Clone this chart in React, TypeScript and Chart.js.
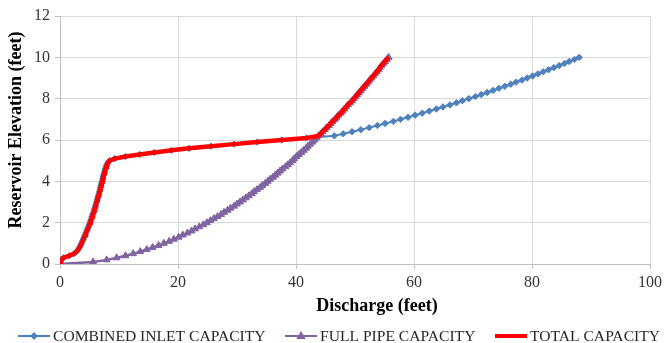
import React, { useEffect, useRef } from 'react';
import { Chart, registerables } from 'chart.js';

Chart.register(...registerables);

// ---- data ----
const elevations = [
  0.0, 0.1, 0.2, 0.3, 0.4, 0.5, 0.6, 0.7, 0.8, 0.9,
  1.0, 1.1, 1.2, 1.3, 1.4, 1.5, 1.6, 1.7, 1.8, 1.9,
  2.0, 2.1, 2.2, 2.3, 2.4, 2.5, 2.6, 2.7, 2.8, 2.9,
  3.0, 3.1, 3.2, 3.3, 3.4, 3.5, 3.6, 3.7, 3.8, 3.9,
  4.0, 4.1, 4.2, 4.3, 4.4, 4.5, 4.6, 4.7, 4.8, 4.9,
  5.0, 5.1, 5.2, 5.3, 5.4, 5.5, 5.6, 5.7, 5.8, 5.9,
  6.0, 6.1, 6.2, 6.3, 6.4, 6.5, 6.6, 6.7, 6.8, 6.9,
  7.0, 7.1, 7.2, 7.3, 7.4, 7.5, 7.6, 7.7, 7.8, 7.9,
  8.0, 8.1, 8.2, 8.3, 8.4, 8.5, 8.6, 8.7, 8.8, 8.9,
  9.0, 9.1, 9.2, 9.3, 9.4, 9.5, 9.6, 9.7, 9.8, 9.9,
  10.0,
];

const inletDischarge = [
  0, 0.1, 0.2, 0.6, 1.6, 2.4, 2.8, 3.1, 3.3, 3.5,
  3.65, 3.8, 3.95, 4.1, 4.25, 4.4, 4.55, 4.7, 4.85, 4.95,
  5.1, 5.2, 5.35, 5.45, 5.55, 5.7, 5.8, 5.9, 6.0, 6.1,
  6.2, 6.3, 6.4, 6.5, 6.6, 6.7, 6.8, 6.85, 6.95, 7.05,
  7.15, 7.25, 7.3, 7.4, 7.5, 7.6, 7.7, 7.8, 7.95, 8.1,
  8.4, 9.3, 11.1, 13.5, 16.0, 18.9, 21.9, 25.6, 29.5, 33.4,
  37.6, 41.8, 46.5, 48.0, 49.5, 51.0, 52.4, 53.8, 55.1, 56.5,
  57.7, 59.0, 60.2, 61.4, 62.6, 63.8, 64.9, 66.1, 67.2, 68.2,
  69.3, 70.4, 71.4, 72.4, 73.4, 74.4, 75.4, 76.4, 77.3, 78.3,
  79.2, 80.1, 81.0, 81.9, 82.8, 83.7, 84.6, 85.5, 86.3, 87.2,
  88.0,
];

const pipeDischarge = [
  0, 5.6, 7.9, 9.6, 11.1, 12.4, 13.6, 14.7, 15.7, 16.7,
  17.6, 18.5, 19.3, 20.1, 20.8, 21.6, 22.3, 22.9, 23.6, 24.3,
  24.9, 25.5, 26.1, 26.7, 27.3, 27.8, 28.4, 28.9, 29.5, 30.0,
  30.5, 31.0, 31.5, 32.0, 32.5, 32.9, 33.4, 33.9, 34.3, 34.8,
  35.2, 35.6, 36.1, 36.5, 36.9, 37.3, 37.7, 38.2, 38.6, 39.0,
  39.4, 39.7, 40.1, 40.5, 40.9, 41.3, 41.7, 42.0, 42.4, 42.8,
  43.1, 43.5, 43.8, 44.2, 44.5, 44.9, 45.2, 45.6, 45.9, 46.2,
  46.6, 46.9, 47.2, 47.6, 47.9, 48.2, 48.5, 48.8, 49.2, 49.5,
  49.8, 50.1, 50.4, 50.7, 51.0, 51.3, 51.6, 51.9, 52.2, 52.5,
  52.8, 53.1, 53.4, 53.7, 54.0, 54.2, 54.5, 54.8, 55.1, 55.4,
  55.7,
];

const totalDischarge = [
  0, 0.1, 0.2, 0.6, 1.6, 2.4, 2.8, 3.1, 3.3, 3.5,
  3.65, 3.8, 3.95, 4.1, 4.25, 4.4, 4.55, 4.7, 4.85, 4.95,
  5.1, 5.2, 5.35, 5.45, 5.55, 5.7, 5.8, 5.9, 6.0, 6.1,
  6.2, 6.3, 6.4, 6.5, 6.6, 6.7, 6.8, 6.85, 6.95, 7.05,
  7.15, 7.25, 7.3, 7.4, 7.5, 7.6, 7.7, 7.8, 7.95, 8.1,
  8.4, 9.3, 11.1, 13.5, 16.0, 18.9, 21.9, 25.6, 29.5, 33.4,
  37.6, 41.8, 43.8, 44.2, 44.5, 44.9, 45.2, 45.6, 45.9, 46.2,
  46.6, 46.9, 47.2, 47.6, 47.9, 48.2, 48.5, 48.8, 49.2, 49.5,
  49.8, 50.1, 50.4, 50.7, 51.0, 51.3, 51.6, 51.9, 52.2, 52.5,
  52.8, 53.1, 53.4, 53.7, 54.0, 54.2, 54.5, 54.8, 55.1, 55.4,
  55.7,
];

const seriesLabels = ['COMBINED INLET CAPACITY', 'FULL PIPE CAPACITY', 'TOTAL CAPACITY'];
const xAxisTitle = 'Discharge (feet)';
const yAxisTitle = 'Reservoir Elevation (feet)';
const xRange = [0, 100];
const xStep = 20;
const yRange = [0, 12];
const yStep = 2;

// ---- styles ----
const SERIF = '"Liberation Serif", "Times New Roman", serif';
const BLUE = '#4F81BD';
const PURPLE = '#8064A2';
const RED = '#FF0000';
const GRID = '#d9d9d9';
const AXIS = '#bfbfbf';

function drawDiamond(ctx: CanvasRenderingContext2D, cx: number, cy: number, r: number) {
  ctx.beginPath();
  ctx.moveTo(cx, cy - r);
  ctx.lineTo(cx + r, cy);
  ctx.lineTo(cx, cy + r);
  ctx.lineTo(cx - r, cy);
  ctx.closePath();
  ctx.fill();
}

function drawTriangle(ctx: CanvasRenderingContext2D, cx: number, cy: number, r: number) {
  ctx.beginPath();
  ctx.moveTo(cx, cy - r);
  ctx.lineTo(cx + r * 0.95, cy + r * 0.6);
  ctx.lineTo(cx - r * 0.95, cy + r * 0.6);
  ctx.closePath();
  ctx.fill();
}

const textPlugin = {
  id: 'excelTexts',
  afterDraw(chart: any) {
    const ctx: CanvasRenderingContext2D = chart.ctx;
    ctx.save();
    // axis titles
    ctx.fillStyle = '#000';
    ctx.font = `bold 18px ${SERIF}`;
    ctx.textAlign = 'center';
    ctx.textBaseline = 'middle';
    ctx.fillText(xAxisTitle, 377, 306);
    ctx.save();
    ctx.translate(16, 130);
    ctx.rotate(-Math.PI / 2);
    ctx.fillText(yAxisTitle, 0, 0);
    ctx.restore();

    // legend
    const legendX = [18, 285, 495];
    const ly = 336;
    chart.data.datasets.forEach((ds: any, i: number) => {
      const x0 = legendX[i];
      ctx.strokeStyle = ds.borderColor;
      ctx.lineWidth = i === 2 ? 4 : 2;
      ctx.beginPath();
      ctx.moveTo(x0, ly);
      ctx.lineTo(x0 + 32, ly);
      ctx.stroke();
      ctx.fillStyle = ds.borderColor;
      if (ds.pointStyle === 'rectRot') drawDiamond(ctx, x0 + 16, ly, 4);
      if (ds.pointStyle === 'triangle') drawTriangle(ctx, x0 + 16, ly, 5);
      ctx.fillStyle = '#262626';
      ctx.font = `15.6px ${SERIF}`;
      ctx.textAlign = 'left';
      ctx.textBaseline = 'middle';
      ctx.fillText(ds.label, x0 + 35, ly + 1);
    });
    ctx.restore();
  },
};

export default function App() {
  const canvasRef = useRef<HTMLCanvasElement | null>(null);

  useEffect(() => {
    if (!canvasRef.current) return;
    const toPoints = (xs: number[]) => elevations.map((e, i) => ({ x: xs[i], y: e }));
    const chart = new Chart(canvasRef.current, {
      type: 'scatter',
      data: {
        datasets: [
          {
            label: seriesLabels[0],
            data: toPoints(inletDischarge),
            showLine: true,
            borderColor: BLUE,
            backgroundColor: BLUE,
            borderWidth: 2,
            pointStyle: 'rectRot',
            pointRadius: 3.2,
            pointBorderWidth: 1,
            tension: 0,
            order: 2,
          },
          {
            label: seriesLabels[1],
            data: toPoints(pipeDischarge),
            showLine: true,
            borderColor: PURPLE,
            backgroundColor: PURPLE,
            borderWidth: 2.5,
            pointStyle: 'triangle',
            pointRadius: 4,
            pointBorderWidth: 1,
            tension: 0,
            order: 1,
          },
          {
            label: seriesLabels[2],
            data: toPoints(totalDischarge),
            showLine: true,
            borderColor: RED,
            backgroundColor: RED,
            borderWidth: 4.5,
            pointRadius: 0,
            tension: 0,
            order: 0,
          },
        ],
      },
      options: {
        responsive: false,
        animation: false,
        layout: { padding: { top: 16, right: 13, left: 0, bottom: 0 } },
        plugins: {
          legend: { display: false },
          tooltip: { enabled: false },
        },
        scales: {
          x: {
            type: 'linear',
            min: xRange[0],
            max: xRange[1],
            afterFit: (scale: any) => { scale.height = 79; },
            ticks: {
              stepSize: xStep,
              padding: 4,
              color: '#333',
              font: { family: SERIF, size: 16 },
            },
            grid: { color: GRID, tickColor: AXIS, tickLength: 5, drawTicks: true },
            border: { color: AXIS },
            title: { display: false },
          },
          y: {
            type: 'linear',
            min: yRange[0],
            max: yRange[1],
            afterFit: (scale: any) => { scale.width = 60; },
            ticks: {
              stepSize: yStep,
              padding: 5,
              color: '#333',
              font: { family: SERIF, size: 16 },
            },
            grid: { color: GRID, tickColor: AXIS, tickLength: 5, drawTicks: true },
            border: { color: AXIS },
            title: { display: false },
          },
        },
      },
      plugins: [textPlugin],
    });
    return () => chart.destroy();
  }, []);

  return (
    <div style={{ position: 'absolute', left: 0, top: 0, width: 666, height: 343, background: '#fff' }}>
      <canvas ref={canvasRef} width={666} height={343} />
    </div>
  );
}
